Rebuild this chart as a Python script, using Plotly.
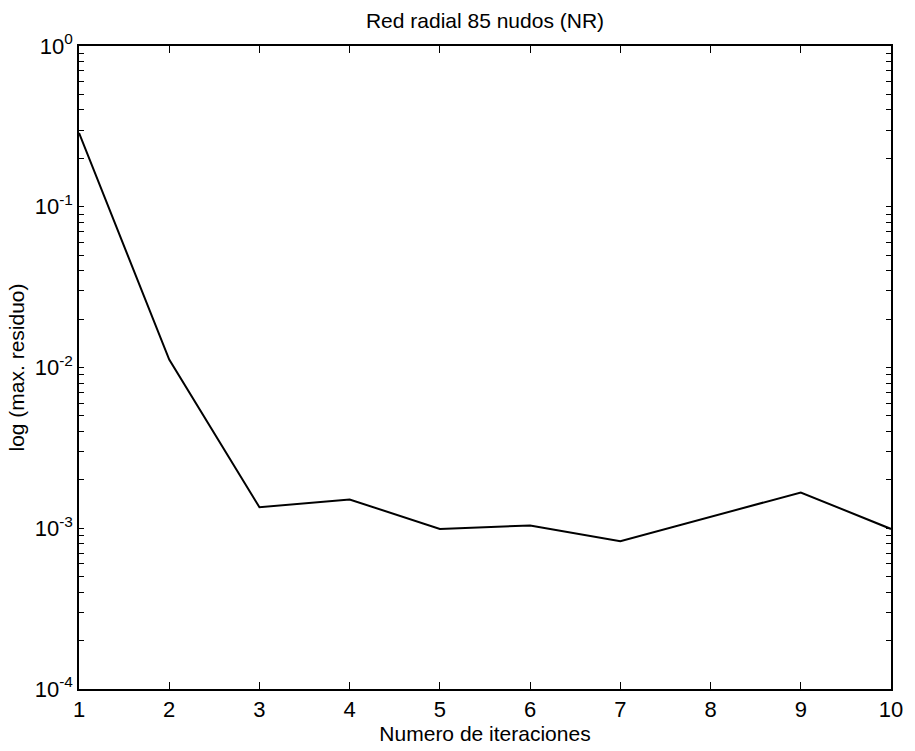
import plotly.graph_objects as go

# Newton-Raphson convergence: maximum residual per iteration
iteraciones = [1, 2, 3, 4, 5, 6, 7, 8, 9, 10]
max_residuo = [0.288, 0.0112, 0.00135, 0.00151, 0.00099, 0.00104, 0.00083, 0.00118, 0.00167, 0.00099]

decadas = [-4, -3, -2, -1, 0]
mantisas_menores = [2, 3, 4, 5, 6, 7, 8, 9]

# decade ticks carry labels, intermediate ticks are unlabeled
y_tick_vals = []
y_tick_text = []
for e in decadas:
    y_tick_vals.append(10.0 ** e)
    y_tick_text.append(f"10<sup>{e}</sup>")
    if e < 0:
        for m in mantisas_menores:
            y_tick_vals.append(m * 10.0 ** e)
            y_tick_text.append("")

font_family = "Liberation Sans, Arial, Helvetica, sans-serif"

fig = go.Figure()
fig.add_trace(
    go.Scatter(
        x=iteraciones,
        y=max_residuo,
        mode="lines",
        line=dict(color="black", width=2),
        showlegend=False,
    )
)

axis_common = dict(
    ticks="inside",
    tickwidth=1,
    tickcolor="black",
    showline=True,
    linecolor="black",
    linewidth=1.5,
    mirror="ticks",
    showgrid=False,
    zeroline=False,
)

fig.update_layout(
    width=915,
    height=751,
    margin=dict(l=79, r=14, t=46, b=61),
    paper_bgcolor="white",
    plot_bgcolor="white",
    font=dict(family=font_family, size=21, color="black"),
    title=dict(
        text="Red radial 85 nudos (NR)",
        x=0.5,
        xref="paper",
        xanchor="center",
        y=1 - 21 / 751,
        yanchor="middle",
        font=dict(size=21),
    ),
    xaxis=dict(
        range=[1, 10],
        tickvals=iteraciones,
        ticktext=[str(v) for v in iteraciones],
        ticklen=7,
        tickfont=dict(size=22),
        title=dict(text="Numero de iteraciones", font=dict(size=21), standoff=2),
        **axis_common,
    ),
    yaxis=dict(
        type="log",
        range=[-4, 0],
        tickmode="array",
        tickvals=y_tick_vals,
        ticktext=y_tick_text,
        ticklen=5,
        tickfont=dict(size=22),
        title=dict(text="log (max. residuo)", font=dict(size=21), standoff=4),
        **axis_common,
    ),
)

fig.write_html("out.html")
